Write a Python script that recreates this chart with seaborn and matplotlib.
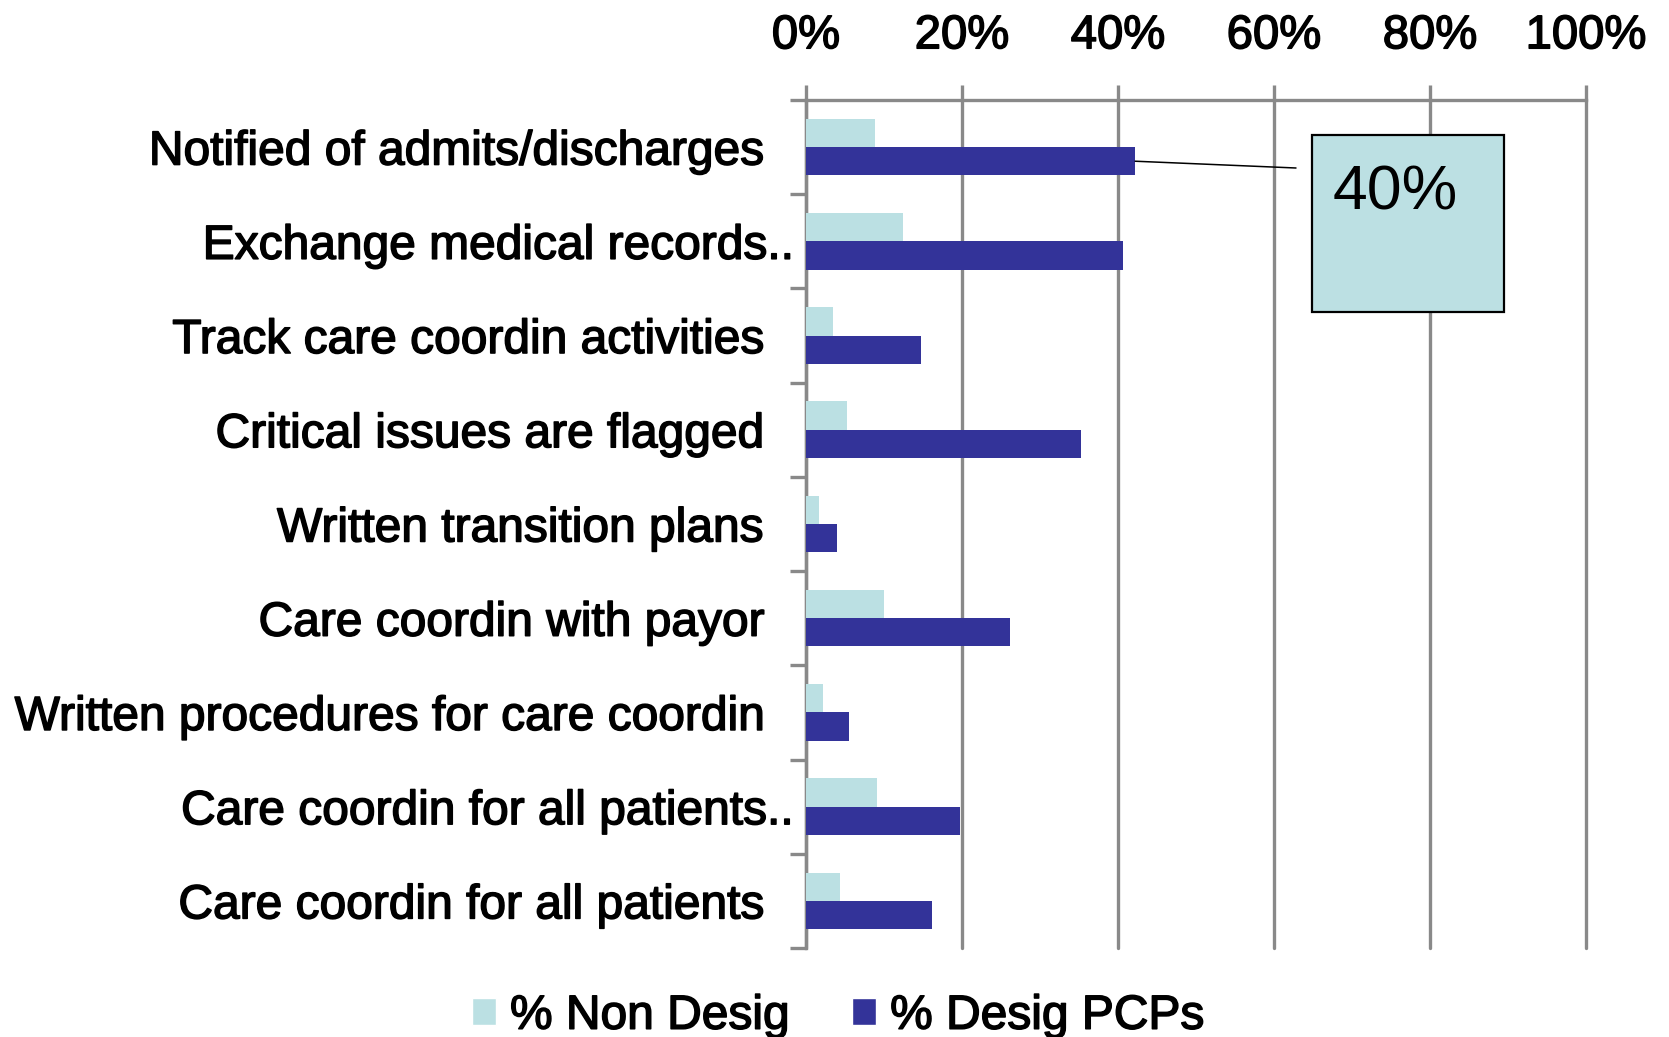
import numpy as np
import pandas as pd
import matplotlib
matplotlib.use("Agg")
import matplotlib.pyplot as plt
import matplotlib.transforms as mtransforms
import matplotlib.patheffects as pe
from matplotlib.patches import Patch, Rectangle, ConnectionPatch
from matplotlib.ticker import PercentFormatter, FixedLocator
import seaborn as sns

categories = [
    "Notified of admits/discharges",
    "Exchange medical records..",
    "Track care coordin activities",
    "Critical issues are flagged",
    "Written transition plans",
    "Care coordin with payor",
    "Written procedures for care coordin",
    "Care coordin for all patients..",
    "Care coordin for all patients",
]
non_desig = [0.089, 0.124, 0.035, 0.052, 0.017, 0.100, 0.022, 0.091, 0.044]
desig_pcps = [0.422, 0.406, 0.147, 0.353, 0.040, 0.262, 0.055, 0.198, 0.162]
series_names = ["% Non Desig", "% Desig PCPs"]
x_ticks = [0, 0.2, 0.4, 0.6, 0.8, 1.0]
callout_label = "40%"

df = pd.DataFrame({
    "category": categories * 2,
    "value": non_desig + desig_pcps,
    "series": [series_names[0]] * len(categories) + [series_names[1]] * len(categories),
})

sns.set_style("white")
plt.rcParams["font.family"] = ["Liberation Sans", "DejaVu Sans"]
plt.rcParams["text.color"] = "black"

LIGHT = "#BBE0E3"
DARK = "#333399"
GRID = "#898989"
BOLDISH = [pe.withStroke(linewidth=1.1, foreground="black")]

fig = plt.figure(figsize=(16.69, 10.37), dpi=100)
ax = fig.add_axes([0.4829, 0.0858, 0.4674, 0.8178])

sns.barplot(data=df, x="value", y="category", hue="series", order=categories,
            hue_order=series_names, palette=[LIGHT, DARK], orient="h", width=0.6,
            saturation=1, linewidth=0, ax=ax, legend=False, zorder=3)

ax.set_xlim(0, 1)
ax.set_ylim(len(categories) - 0.5, -0.5)
ax.set_axisbelow(True)
ax.grid(axis="x", color=GRID, lw=2.4)
ax.grid(axis="y", visible=False)

ax.xaxis.tick_top()
ax.set_xticks(x_ticks)
ax.xaxis.set_major_formatter(PercentFormatter(1.0, decimals=0))
ax.tick_params(axis="x", which="major", length=11, width=2.4, color=GRID,
               labelsize=34, pad=19, top=True, bottom=False, labelcolor="black")

ax.set_yticks(range(len(categories)), categories)
ax.yaxis.set_minor_locator(FixedLocator(np.arange(-0.5, len(categories), 1.0)))
ax.tick_params(axis="y", which="major", length=0, labelsize=34.5, pad=30, left=True,
               labelcolor="black")
ax.tick_params(axis="y", which="minor", length=11.5, width=2.4, color=GRID, left=True)
ax.set_xlabel("")
ax.set_ylabel("")

for side in ["right", "bottom"]:
    ax.spines[side].set_visible(False)
for side in ["left", "top"]:
    ax.spines[side].set_visible(True)
    ax.spines[side].set_color(GRID)
    ax.spines[side].set_linewidth(2.4)

for gl in ax.get_xgridlines():
    gl.set_clip_on(False)

for lab in ax.get_xticklabels() + ax.get_yticklabels():
    lab.set_path_effects(BOLDISH)

# truncated labels: trailing dots hang past the common right edge
for lab in ax.get_yticklabels():
    if lab.get_text().endswith(".."):
        lab.set_transform(lab.get_transform() +
                          mtransforms.ScaledTranslation(21 / 72, 0, fig.dpi_scale_trans))

# callout
rect = Rectangle((0.7861, 0.6991), 0.1150, 0.1707, transform=fig.transFigure,
                 facecolor="#BCE0E3", edgecolor="black", lw=1.6, zorder=5)
fig.add_artist(rect)
fig.text(0.7987, 0.7975, callout_label, fontsize=45, va="baseline", ha="left",
         color="black", zorder=6)
con = ConnectionPatch(xyA=(desig_pcps[0], 0.15), coordsA=ax.transData,
                      xyB=(1296 / 1669, 1 - 168 / 1037), coordsB=fig.transFigure,
                      color="black", lw=1.1, zorder=6)
fig.add_artist(con)

handles = [Patch(facecolor=LIGHT, label=series_names[0]),
           Patch(facecolor=DARK, label=series_names[1])]
leg = fig.legend(handles=handles, loc="center", bbox_to_anchor=(0.502, 0.02), ncol=2,
                 frameon=False, fontsize=34.5, handlelength=0.5, handleheight=0.5,
                 handletextpad=0.3, columnspacing=1.3, borderaxespad=0, borderpad=0)
for t in leg.get_texts():
    t.set_color("black")
    t.set_path_effects(BOLDISH)

fig.savefig("out.png", dpi=100)
